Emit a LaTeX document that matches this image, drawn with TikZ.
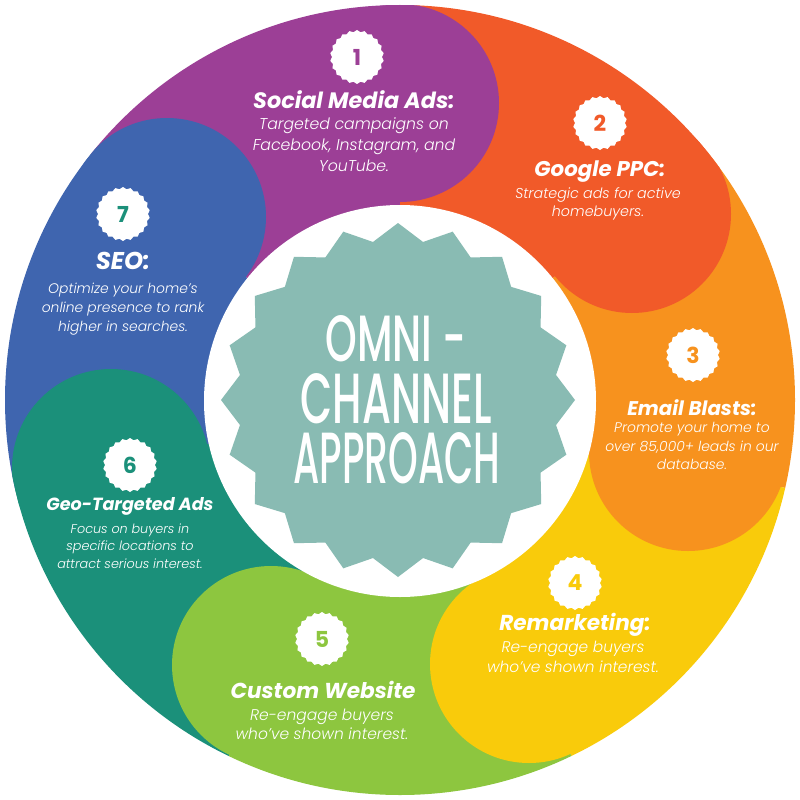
\documentclass[tikz,border=0pt]{standalone}
\usepackage{fontspec}
\usepackage{graphicx}
\usetikzlibrary{shapes.geometric}
\setmainfont{Poppins}
\IfFontExistsTF{Poppins Light}{\newfontfamily\descfont{Poppins Light}[ItalicFont={Poppins Light Italic}]}{\newfontfamily\descfont{Poppins}}
\IfFontExistsTF{Poppins Medium}{\newfontfamily\headfont{Poppins Medium}}{\newfontfamily\headfont{Poppins}}
\definecolor{cpurple}{HTML}{9C3F96}
\definecolor{cred}{HTML}{F15A29}
\definecolor{corange}{HTML}{F7921E}
\definecolor{cyellow}{HTML}{F9CB0B}
\definecolor{cgreen}{HTML}{8DC63F}
\definecolor{cteal}{HTML}{1B907A}
\definecolor{cblue}{HTML}{3F65AF}
\definecolor{cstar}{HTML}{89BBB3}
\tikzset{
  badge/.style={star, star points=22, star point ratio=1.08, minimum size=54pt, inner sep=0pt, fill=white, draw=none,
    font=\bfseries\fontsize{22}{22}\selectfont},
  ttl/.style={text=white, inner sep=0pt, align=center},
  desc/.style={text=white, inner sep=0pt, align=center},
  bigline/.style={text=white, inner sep=0pt},
}
\newcommand{\tf}[1]{\bfseries\itshape\fontsize{#1}{#1}\selectfont}
\newcommand{\df}[2]{\descfont\itshape\fontsize{#1}{#2}\selectfont}
\begin{document}
\begin{tikzpicture}[x=1pt,y=-1pt]
\useasboundingbox (0,0) rectangle (800,800);
\fill[white] (0,0) rectangle (800,800);
\begin{scope}
\clip (400,400) circle[radius=395];
\foreach \col [count=\i from 0] in {cpurple,cred,corange,cyellow,cgreen,cteal,cblue} {
  \pgfmathsetmacro\a{90-\i*360/7}
  \fill[\col] (400,400) -- ({400+600*cos(\a)},{400-600*sin(\a)})
     -- ({400+600*cos(\a+17.143)},{400-600*sin(\a+17.143)})
     -- ({400+600*cos(\a+34.286)},{400-600*sin(\a+34.286)})
     -- ({400+600*cos(\a+51.43)},{400-600*sin(\a+51.43)}) -- cycle;
}
\fill[cpurple] (400,103) circle[radius=99];
\fill[cred] (632,214) circle[radius=99];
\fill[corange] (688,452) circle[radius=99];
\fill[cyellow] (529,664) circle[radius=99];
\fill[cgreen] (271,665) circle[radius=99];
\fill[cteal] (111,468) circle[radius=99];
\fill[cblue] (167,217) circle[radius=99];
\end{scope}
\fill[white] (400,401) circle[radius=196];
\fill[cstar] plot[samples at={0,9,...,351}, variable=\t]
  ({398+(168.5+8.5*cos(20*\t))*cos(\t)},{400-(168.5+8.5*cos(20*\t))*sin(\t)}) -- cycle;
% center title
\node[bigline] (t1) at (396,339) {\resizebox{141pt}{46pt}{\headfont OMNI -}};
\node[bigline] (t2) at (396,399) {\resizebox{191pt}{50pt}{\headfont CHANNEL}};
\node[bigline] (t3) at (397,458) {\resizebox{207pt}{51pt}{\headfont APPROACH}};
% badges
\node[badge, text=cpurple] (b1) at (357,57) {1};
\node[badge, text=cred] (b2) at (600,123) {2};
\node[badge, text=corange] (b3) at (693,355) {3};
\node[badge, text=cyellow] (b4) at (575,583) {4};
\node[badge, text=cgreen] (b5) at (322,639) {5};
\node[badge, text=cteal] (b6) at (130,465) {6};
\node[badge, text=cteal] (b7) at (123,214) {7};
% 1
\node[ttl, font=\tf{22.3}] (h1) at (354,100) {Social Media Ads:};
\node[desc, font=\df{15.7}{21}] (d1) at (354,145) {Targeted campaigns on\\Facebook, Instagram, and\\YouTube.};
% 2
\node[ttl, font=\tf{21.3}] (h2) at (600,172) {Google PPC:};
\node[desc, font=\df{14.3}{18.5}] (d2) at (598,204) {Strategic ads for active\\homebuyers.};
% 3
\node[ttl, font=\tf{19.8}] (h3) at (692,408) {Email Blasts:};
\node[desc, font=\df{13.9}{18.5}] (d3) at (692,446) {Promote your home to\\over 85,000+ leads in our\\database.};
% 4
\node[ttl, font=\tf{21.6}] (h4) at (575,625) {Remarketing:};
\node[desc, font=\df{15.4}{20}] (d4) at (573,657) {Re-engage buyers\\who’ve shown interest.};
% 5
\node[ttl, font=\tf{21.6}] (h5) at (323,690) {Custom Website};
\node[desc, font=\df{15.5}{19}] (d5) at (322,724) {Re-engage buyers\\who’ve shown interest.};
% 6
\node[ttl, font=\tf{17.6}] (h6) at (130,506) {Geo-Targeted Ads};
\node[desc, font=\df{12.8}{17.5}] (d6) at (130,546) {Focus on buyers in\\specific locations to\\attract serious interest.};
% 7
\node[ttl, font=\tf{24.3}] (h7) at (123,261) {SEO:};
\node[desc, font=\df{13.9}{19}] (d7) at (123,309) {Optimize your home’s\\online presence to rank\\higher in searches.};
\end{tikzpicture}
\end{document}
